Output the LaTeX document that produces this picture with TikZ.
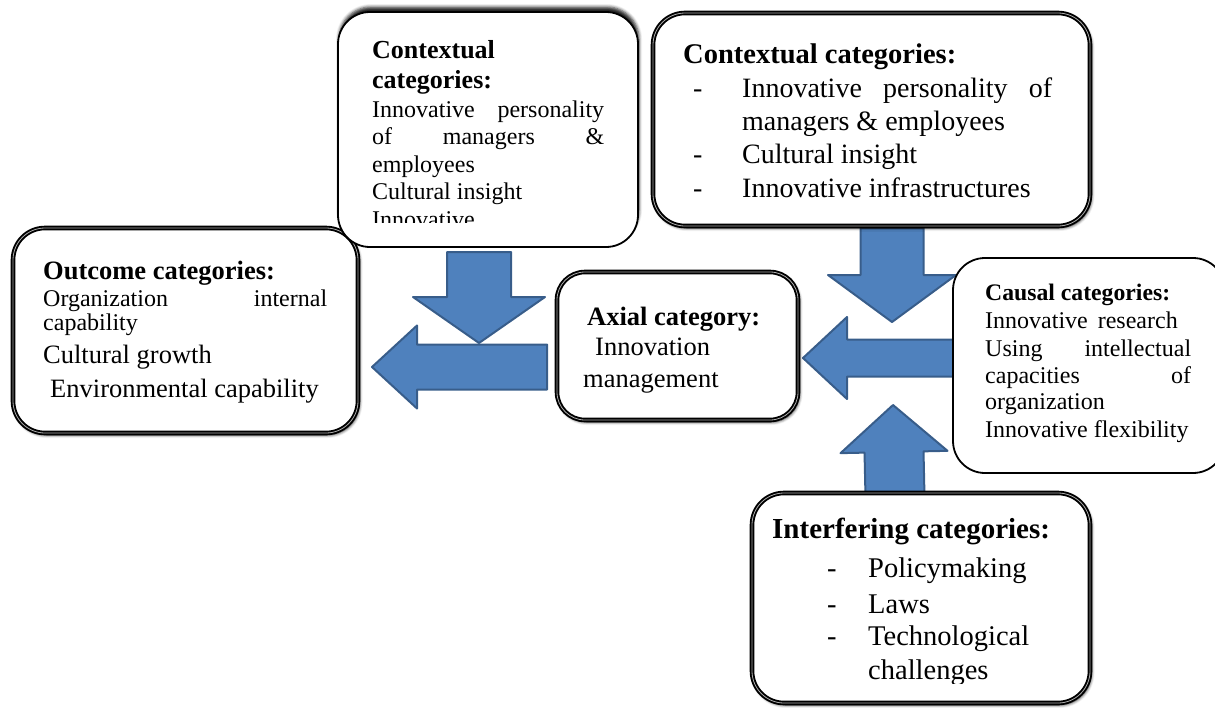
\documentclass[tikz,border=0pt]{standalone}
\usepackage{fontspec}
\setmainfont{Liberation Serif}
\usetikzlibrary{calc,shadows.blur}

\definecolor{arrowfill}{RGB}{79,129,189}
\definecolor{arrowline}{RGB}{56,93,138}

% one line of a text block: baseline distance from the line above, font size, content
\newcommand\txtline[3]{{\fontsize{#2}{#1}\selectfont
  \spaceskip=0.25em plus 0.2em\relax #3\par}}

% block arrow: tail, tip, half shaft width, half head width, head length
\newcommand\blockarrow[5]{%
  \path ($(#2)!#5!(#1)$) coordinate (bah);
  \draw[arrowshape]
    ($(#1)!#3!90:(#2)$) -- ($(bah)!#3!90:(#2)$) -- ($(bah)!#4!90:(#2)$) -- (#2)
    -- ($(bah)!#4!-90:(#2)$) -- ($(bah)!#3!-90:(#2)$) -- ($(#1)!#3!-90:(#2)$) -- cycle;
}

\tikzset{
  catbox/.style={rectangle, draw=black, fill=white, inner sep=0pt, rounded corners=32pt},
  heavybox/.style={catbox, line width=1.9pt, double=gray!65, double distance=0.8pt,
    blur shadow={shadow xshift=1.5pt, shadow yshift=-2pt, shadow blur radius=3pt, shadow opacity=90}},
  lightbox/.style={catbox, line width=1.8pt},
  boxtext/.style={anchor=north west, inner sep=0pt, align=left,
    font={\lineskiplimit=-100pt\lineskip=0pt\relax}},
  arrowshape/.style={fill=arrowfill, draw=arrowline, line width=2pt, line join=round},
}

\begin{document}
\begin{tikzpicture}[x=1pt, y=-1pt]
\useasboundingbox (0,0) rectangle (1215,707);

% arrow end points
\coordinate (ctxA-tail) at (479,252);
\coordinate (ctxA-tip)  at (479,343);
\coordinate (axial-tail) at (547,367);
\coordinate (axial-tip)  at (372,367);
\coordinate (ctxB-tail) at (892,228);
\coordinate (ctxB-tip)  at (892,322);
\coordinate (causal-tail) at (965,358);
\coordinate (causal-tip)  at (803,358);
\coordinate (interf-tail) at (895,497);
\coordinate (interf-tip)  at (893,405);

\blockarrow{ctxA-tail}{ctxA-tip}{32pt}{66pt}{46pt}
\blockarrow{axial-tail}{axial-tip}{22.5pt}{41.5pt}{45pt}
\blockarrow{ctxB-tail}{ctxB-tip}{31.5pt}{64pt}{47pt}
\blockarrow{causal-tail}{causal-tip}{18.5pt}{41pt}{44pt}
\blockarrow{interf-tail}{interf-tip}{29.5pt}{53.5pt}{47pt}

% outcome categories
\node[heavybox, minimum width=345pt, minimum height=205pt] (outcome) at (185.5,330.5) {};
\node[boxtext, text width=284pt] (outcome-text) at (43,259) {%
  \txtline{30}{26.5}{\bfseries\rule{0pt}{20pt}Outcome categories:}%
  \txtline{27}{24}{Organization\hfill internal}%
  \txtline{24.5}{24}{capability}%
  \txtline{33}{26.5}{Cultural growth}%
  \txtline{34}{26.5}{\hspace*{7pt}Environmental capability}};

% contextual categories (narrow box)
\node[lightbox, minimum width=300pt, minimum height=235pt,
  blur shadow={shadow xshift=1pt, shadow yshift=5pt, shadow blur radius=3pt, shadow opacity=85}]
  (ctxA) at (488,129.5) {};
\begin{scope}
  \clip (338,12) rectangle (638,222);
  \node[boxtext, text width=232pt] (ctxA-text) at (372,38) {%
    \txtline{30}{26}{\bfseries\rule{0pt}{20pt}Contextual}%
    \txtline{30}{26}{\bfseries categories:}%
    \txtline{29}{24}{Innovative\hfill personality}%
    \txtline{27}{24}{of\hfill managers\hfill\&}%
    \txtline{28}{24}{employees}%
    \txtline{27.5}{24}{Cultural insight}%
    \txtline{27.5}{24}{Innovative}};
\end{scope}

% contextual categories (wide box)
\node[heavybox, minimum width=437pt, minimum height=213pt] (ctxB) at (871.5,119.5) {};
\node[boxtext, text width=369pt] (ctxB-text) at (683,41) {%
  \txtline{33}{28.5}{\bfseries\rule{0pt}{22pt}Contextual categories:}%
  \txtline{34}{28}{\hspace*{10pt}\makebox[49pt][l]{-}Innovative\hfill personality\hfill of}%
  \txtline{33}{28}{\hspace*{59pt}managers \& employees}%
  \txtline{33}{28}{\hspace*{10pt}\makebox[49pt][l]{-}Cultural insight}%
  \txtline{34}{28}{\hspace*{10pt}\makebox[49pt][l]{-}Innovative infrastructures}};

% axial category
\node[heavybox, minimum width=241pt, minimum height=148pt, rounded corners=28pt] (axial) at (677.5,346) {};
\node[boxtext, text width=200pt] (axial-text) at (583,305) {%
  \txtline{30}{26.5}{\bfseries\rule{0pt}{20pt}\hspace*{4pt}Axial category:}%
  \txtline{30}{26.5}{\hspace*{12pt}Innovation}%
  \txtline{32}{26.5}{management}};

% causal categories
\node[lightbox, minimum width=272pt, minimum height=215pt] (causal) at (1089,365.5) {};
\node[boxtext, text width=206pt] (causal-text) at (985,281) {%
  \txtline{28}{23.7}{\bfseries\rule{0pt}{19pt}Causal categories:}%
  \txtline{28}{24}{Innovative\hspace{10pt}research}%
  \txtline{28}{24}{Using\hfill intellectual}%
  \txtline{27}{24}{capacities\hfill of}%
  \txtline{26}{24}{organization}%
  \txtline{28}{24}{Innovative flexibility}};

% interfering categories
\node[heavybox, minimum width=338pt, minimum height=210pt] (interf) at (921,598) {};
\begin{scope}
  \clip (752,493) rectangle (1090,683);
  \node[boxtext, text width=300pt] (interf-text) at (772,516) {%
    \txtline{33}{29}{\bfseries\rule{0pt}{22pt}Interfering categories:}%
    \txtline{39}{28.5}{\hspace*{55pt}\makebox[41pt][l]{-}Policymaking}%
    \txtline{36}{28.5}{\hspace*{55pt}\makebox[41pt][l]{-}Laws}%
    \txtline{32}{28.5}{\hspace*{55pt}\makebox[41pt][l]{-}Technological}%
    \txtline{34}{28.5}{\hspace*{96pt}challenges}};
\end{scope}
\end{tikzpicture}
\end{document}
